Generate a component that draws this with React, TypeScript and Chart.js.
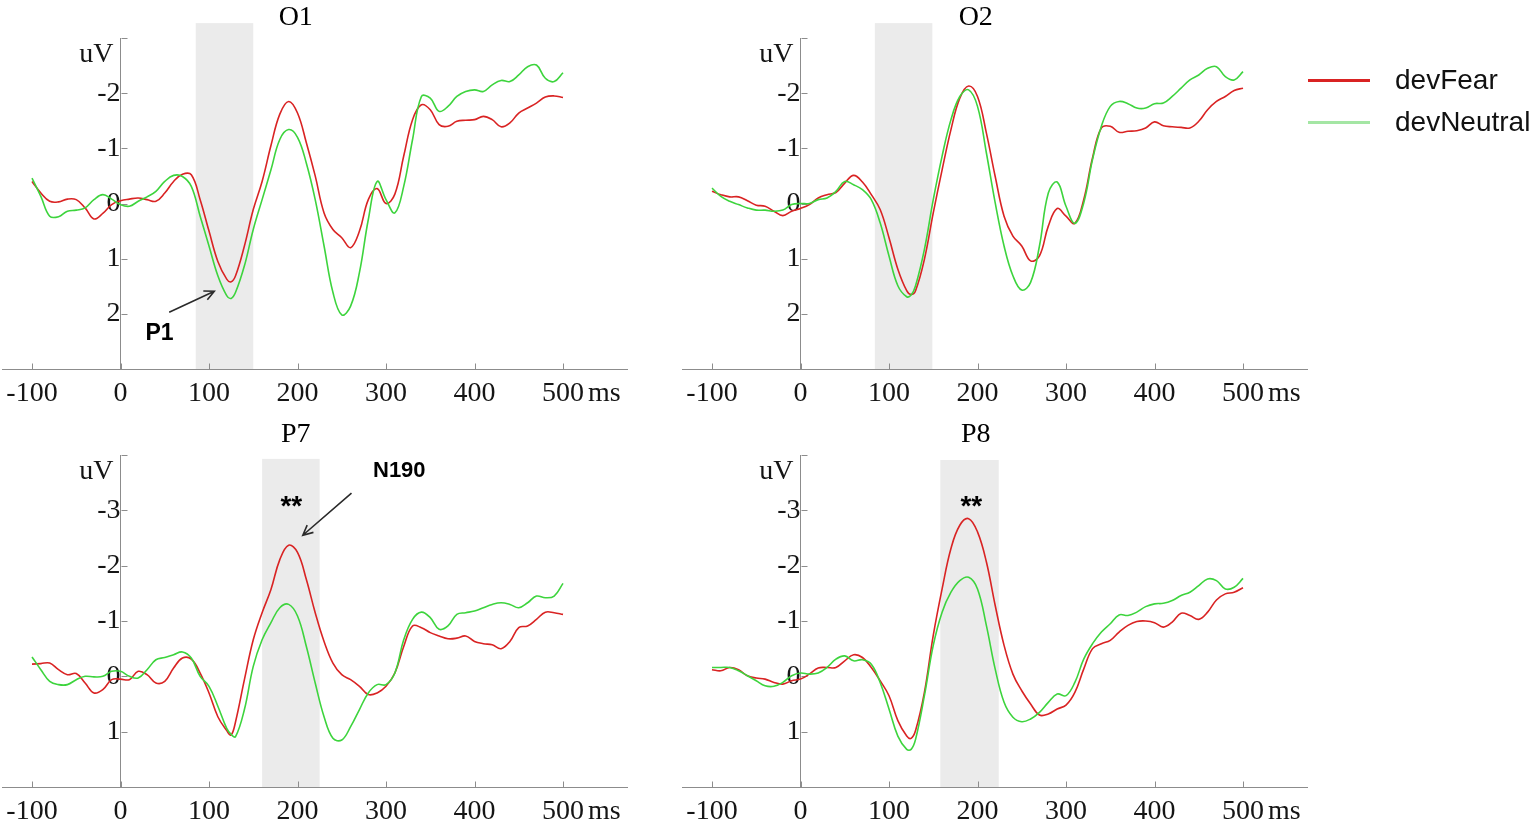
import React, { useEffect, useRef } from "react";
import { Chart, registerables } from "chart.js";

Chart.register(...registerables);

// ---------- data ----------
const times = [
  -100, -90, -80, -70, -60, -50, -40, -30, -20, -10, 0, 10, 20, 30, 40, 50, 60, 70, 80, 90, 100, 110, 120, 125, 130,
  140, 150, 160, 170, 180, 190, 200, 210, 220, 230, 240, 250, 260, 270, 280, 290, 300, 310, 320, 330, 340, 350, 360,
  370, 380, 390, 400, 410, 420, 430, 440, 450, 460, 470, 480, 490, 500,
];

const o1Fear = [
  -0.4, -0.19, -0.04, -0.03, -0.08, -0.07, 0.08, 0.28, 0.18, 0.02, -0.05, -0.08, -0.1, -0.07, -0.04, -0.19, -0.4, -0.53,
  -0.52, -0.07, 0.5, 1.05, 1.37, 1.42, 1.31, 0.77, 0.11, -0.4, -1.05, -1.62, -1.85, -1.64, -1.1, -0.5, 0.17, 0.47, 0.62,
  0.8, 0.5, -0.07, -0.27, 0.0, -0.17, -0.86, -1.52, -1.79, -1.7, -1.43, -1.4, -1.49, -1.51, -1.52, -1.58, -1.52, -1.39,
  -1.46, -1.64, -1.73, -1.82, -1.93, -1.95, -1.92,
];
const o1Neutral = [
  -0.46, -0.13, 0.23, 0.24, 0.14, 0.12, 0.08, -0.07, -0.16, -0.08, 0.02, 0.05, -0.04, -0.12, -0.22, -0.4, -0.51, -0.49,
  -0.31, 0.23, 0.77, 1.31, 1.67, 1.72, 1.61, 1.13, 0.47, -0.07, -0.61, -1.16, -1.34, -1.2, -0.73, -0.07, 0.77, 1.61,
  2.02, 1.86, 1.25, 0.29, -0.4, -0.07, 0.17, -0.31, -1.16, -1.94, -1.91, -1.67, -1.76, -1.94, -2.03, -2.06, -2.03,
  -2.15, -2.23, -2.21, -2.33, -2.48, -2.51, -2.27, -2.21, -2.37,
];
const o2Fear = [
  -0.22, -0.16, -0.12, -0.12, -0.05, 0.03, 0.05, 0.14, 0.22, 0.14, 0.09, 0.02, -0.1, -0.16, -0.2, -0.37, -0.51, -0.39,
  -0.16, 0.11, 0.62, 1.19, 1.58, 1.65, 1.58, 1.01, 0.17, -0.61, -1.34, -1.91, -2.13, -1.94, -1.28, -0.49, 0.23, 0.59,
  0.77, 1.04, 0.95, 0.41, 0.09, 0.23, 0.36, -0.07, -0.83, -1.37, -1.4, -1.29, -1.31, -1.32, -1.37, -1.48, -1.41, -1.39,
  -1.38, -1.37, -1.49, -1.7, -1.85, -1.94, -2.05, -2.09,
];
const o2Neutral = [
  -0.28, -0.13, -0.04, 0.02, 0.08, 0.12, 0.12, 0.14, 0.12, 0.02, 0.0, 0.0, -0.07, -0.1, -0.22, -0.4, -0.34, -0.25,
  -0.07, 0.35, 0.95, 1.49, 1.69, 1.66, 1.49, 0.83, -0.07, -0.86, -1.52, -1.94, -2.06, -1.76, -0.92, -0.01, 0.77, 1.31,
  1.57, 1.43, 0.77, -0.19, -0.39, 0.05, 0.36, -0.01, -0.8, -1.4, -1.76, -1.85, -1.81, -1.73, -1.73, -1.81, -1.82, -1.94,
  -2.09, -2.24, -2.33, -2.45, -2.48, -2.3, -2.24, -2.39,
];
const p7Fear = [
  -0.22, -0.23, -0.24, -0.12, -0.03, -0.05, 0.12, 0.3, 0.24, 0.06, 0.05, 0.06, -0.09, -0.03, 0.12, 0.09, -0.15, -0.33,
  -0.31, -0.06, 0.3, 0.73, 0.98, 1.06, 0.82, 0.06, -0.66, -1.15, -1.57, -2.11, -2.37, -2.24, -1.75, -1.15, -0.63, -0.24,
  -0.03, 0.06, 0.18, 0.33, 0.3, 0.18, -0.06, -0.54, -0.91, -0.88, -0.79, -0.73, -0.68, -0.69, -0.73, -0.63, -0.59,
  -0.57, -0.5, -0.63, -0.88, -0.91, -1.03, -1.16, -1.15, -1.12,
];
const p7Neutral = [
  -0.35, -0.12, 0.09, 0.15, 0.15, 0.06, 0.0, 0.01, 0.0, -0.09, -0.09, 0.0, 0.03, -0.12, -0.3, -0.34, -0.39, -0.44, -0.33,
  0.0, 0.18, 0.54, 0.94, 1.05, 1.09, 0.6, -0.18, -0.66, -0.97, -1.24, -1.3, -1.09, -0.54, 0.12, 0.73, 1.12, 1.15, 0.91,
  0.6, 0.3, 0.15, 0.15, -0.06, -0.66, -1.03, -1.16, -1.06, -0.85, -0.91, -1.12, -1.15, -1.18, -1.24, -1.3, -1.33, -1.3,
  -1.24, -1.33, -1.45, -1.42, -1.45, -1.68,
];
const p8Fear = [
  -0.12, -0.1, -0.16, -0.12, -0.01, 0.03, 0.05, 0.11, 0.14, 0.08, 0.05, -0.04, -0.15, -0.16, -0.16, -0.28, -0.39, -0.34,
  -0.16, 0.08, 0.35, 0.8, 1.08, 1.12, 0.98, 0.29, -0.74, -1.58, -2.31, -2.73, -2.85, -2.61, -2.07, -1.28, -0.56, -0.04,
  0.26, 0.5, 0.7, 0.68, 0.59, 0.52, 0.29, -0.13, -0.5, -0.59, -0.65, -0.8, -0.92, -0.99, -1.0, -0.97, -0.89, -0.98,
  -1.14, -1.1, -1.03, -1.16, -1.38, -1.49, -1.52, -1.6,
];
const p8Neutral = [
  -0.16, -0.16, -0.16, -0.1, -0.01, 0.08, 0.17, 0.18, 0.11, -0.01, -0.06, -0.04, -0.06, -0.16, -0.31, -0.37, -0.28,
  -0.3, -0.22, 0.11, 0.59, 1.08, 1.32, 1.32, 1.14, 0.35, -0.56, -1.16, -1.52, -1.73, -1.79, -1.58, -0.92, -0.13, 0.47,
  0.74, 0.82, 0.77, 0.65, 0.47, 0.32, 0.35, 0.11, -0.31, -0.59, -0.8, -0.95, -1.11, -1.1, -1.16, -1.26, -1.31, -1.32,
  -1.37, -1.46, -1.52, -1.64, -1.76, -1.73, -1.58, -1.61, -1.77,
];

const seriesNames = ["devFear", "devNeutral"];
const panelTitles = ["O1", "O2", "P7", "P8"];
const fearSeries = [o1Fear, o2Fear, p7Fear, p8Fear];
const neutralSeries = [o1Neutral, o2Neutral, p7Neutral, p8Neutral];
const yMinValues = [-3, -3, -4, -4];
const yMaxValues = [3, 3, 2, 2];
const yTickLabels = [
  [-2, -1, 0, 1, 2],
  [-2, -1, 0, 1, 2],
  [-3, -2, -1, 0, 1],
  [-3, -2, -1, 0, 1],
];
const xTickLabels = [-100, 0, 100, 200, 300, 400, 500];
const xMin = -133.9;
const xMax = 572.3;
const bandFrom = [85, 84, 160, 158];
const bandTo = [150, 149, 225, 224];
const bandTop = [-3.27, -3.27, -3.93, -3.91];
const titleAt = 198;
const annotationTexts = [
  { panel: 0, text: "P1", t: 44, v: 2.36, size: 23, base: "middle" },
  { panel: 2, text: "**", t: 193, v: -2.92, size: 28, base: "alphabetic" },
  { panel: 2, text: "N190", t: 315, v: -3.71, size: 22, base: "middle" },
  { panel: 3, text: "**", t: 193, v: -2.92, size: 28, base: "alphabetic" },
];
const annotationArrows = [
  { panel: 0, from: [55, 1.97], to: [106, 1.59] },
  { panel: 2, from: [261, -3.31], to: [206, -2.55] },
];

// ---------- style / layout ----------
const FEAR_COLOR = "#d92323";
const NEUTRAL_COLOR = "#3dd43d";
const NEUTRAL_LEGEND = "#a4e6a4";
const AXIS_COLOR = "#8c8c8c";
const BAND_COLOR = "#ebebeb";
const TEXT_COLOR = "#151515";
const SERIF = "'Liberation Serif', 'Times New Roman', serif";
const SANS = "'Liberation Sans', Arial, sans-serif";
const SERIF_SIZE = 28;
const X_SCALE_HEIGHT = 40;
const TICK_PAD = 8;

const panelBoxes = [
  { left: 0, top: 0, width: 680, height: 420, areaLeft: 2, areaRight: 627, areaTop: 38, areaBottom: 369 },
  { left: 680, top: 0, width: 680, height: 420, areaLeft: 2, areaRight: 627, areaTop: 38, areaBottom: 369 },
  { left: 0, top: 420, width: 680, height: 411, areaLeft: 2, areaRight: 627, areaTop: 35, areaBottom: 367 },
  { left: 680, top: 420, width: 680, height: 411, areaLeft: 2, areaRight: 627, areaTop: 35, areaBottom: 367 },
];

function zeroPadding(s: any) {
  s.paddingLeft = 0;
  s.paddingRight = 0;
  s.paddingTop = 0;
  s.paddingBottom = 0;
}

function drawArrow(ctx: CanvasRenderingContext2D, x0: number, y0: number, x1: number, y1: number) {
  const ang = Math.atan2(y1 - y0, x1 - x0);
  const len = 11;
  const spread = 0.45;
  ctx.beginPath();
  ctx.moveTo(x0, y0);
  ctx.lineTo(x1, y1);
  ctx.moveTo(x1 - len * Math.cos(ang - spread), y1 - len * Math.sin(ang - spread));
  ctx.lineTo(x1, y1);
  ctx.lineTo(x1 - len * Math.cos(ang + spread), y1 - len * Math.sin(ang + spread));
  ctx.stroke();
}

function decorPlugin(index: number) {
  return {
    id: "erpDecor",
    beforeDraw(chart: any) {
      const { ctx, scales } = chart;
      const x = scales.x;
      const y = scales.y;
      const x0 = x.getPixelForValue(bandFrom[index]);
      const x1 = x.getPixelForValue(bandTo[index]);
      const y0 = y.getPixelForValue(bandTop[index]);
      const y1 = y.getPixelForValue(yMaxValues[index]);
      ctx.save();
      ctx.fillStyle = BAND_COLOR;
      ctx.fillRect(x0, y0, x1 - x0, y1 - y0);
      ctx.restore();
    },
    beforeDatasetsDraw(chart: any) {
      const { ctx, scales, chartArea } = chart;
      const x = scales.x;
      const y = scales.y;
      const axisX = Math.round(x.getPixelForValue(0)) + 0.5;
      const axisY = Math.round(chartArea.bottom) + 0.5;
      ctx.save();
      ctx.strokeStyle = AXIS_COLOR;
      ctx.lineWidth = 1;
      ctx.beginPath();
      for (const v of xTickLabels) {
        const px = Math.round(x.getPixelForValue(v)) + 0.5;
        ctx.moveTo(px, axisY);
        ctx.lineTo(px, axisY - 6);
      }
      for (let v = yMinValues[index]; v < yMaxValues[index]; v++) {
        const py = Math.round(y.getPixelForValue(v)) + 0.5;
        ctx.moveTo(axisX, py);
        ctx.lineTo(axisX + 6, py);
      }
      ctx.stroke();
      ctx.fillStyle = TEXT_COLOR;
      ctx.font = `${SERIF_SIZE}px ${SERIF}`;
      ctx.textBaseline = "middle";
      ctx.textAlign = "right";
      ctx.fillText("uV", axisX - 8, chartArea.top + 17);
      ctx.textAlign = "left";
      const labelY = chartArea.bottom + TICK_PAD + SERIF_SIZE * 0.6;
      ctx.fillText("ms", x.getPixelForValue(500) + 25, labelY);
      ctx.textAlign = "center";
      ctx.fillStyle = "#000";
      ctx.fillText(panelTitles[index], x.getPixelForValue(titleAt), chartArea.top - 20);
      ctx.restore();
    },
    afterDatasetsDraw(chart: any) {
      const { ctx, scales } = chart;
      const x = scales.x;
      const y = scales.y;
      ctx.save();
      for (const a of annotationTexts) {
        if (a.panel !== index) continue;
        ctx.fillStyle = "#000";
        ctx.font = `bold ${a.size}px ${SANS}`;
        ctx.textAlign = "center";
        ctx.textBaseline = a.base as CanvasTextBaseline;
        ctx.fillText(a.text, x.getPixelForValue(a.t), y.getPixelForValue(a.v));
      }
      ctx.strokeStyle = "#2a2a2a";
      ctx.lineWidth = 1.6;
      for (const a of annotationArrows) {
        if (a.panel !== index) continue;
        drawArrow(
          ctx,
          x.getPixelForValue(a.from[0]),
          y.getPixelForValue(a.from[1]),
          x.getPixelForValue(a.to[0]),
          y.getPixelForValue(a.to[1])
        );
      }
      ctx.restore();
    },
  };
}

function Panel({ index }: { index: number }) {
  const ref = useRef<HTMLCanvasElement>(null);
  const box = panelBoxes[index];
  useEffect(() => {
    const canvas = ref.current;
    if (!canvas) return;
    const yMin = yMinValues[index];
    const yMax = yMaxValues[index];
    const yTicks: number[] = [];
    for (let v = yMin; v <= yMax; v++) yTicks.push(v);
    const chart = new Chart(canvas, {
      type: "line",
      data: {
        datasets: [
          {
            label: seriesNames[1],
            data: times.map((t, i) => ({ x: t, y: neutralSeries[index][i] })),
            borderColor: NEUTRAL_COLOR,
            order: 0,
          },
          {
            label: seriesNames[0],
            data: times.map((t, i) => ({ x: t, y: fearSeries[index][i] })),
            borderColor: FEAR_COLOR,
            order: 1,
          },
        ],
      },
      options: {
        responsive: false,
        animation: false,
        events: [],
        layout: {
          padding: {
            left: box.areaLeft,
            right: box.width - box.areaRight,
            top: box.areaTop,
            bottom: box.height - box.areaBottom - X_SCALE_HEIGHT,
          },
        },
        plugins: { legend: { display: false }, tooltip: { enabled: false }, title: { display: false } },
        elements: {
          point: { radius: 0 },
          line: { tension: 0.4, borderWidth: 1.6, fill: false },
        },
        scales: {
          x: {
            type: "linear",
            min: xMin,
            max: xMax,
            afterBuildTicks: (s: any) => {
              s.ticks = xTickLabels.map((v) => ({ value: v }));
            },
            afterFit: (s: any) => {
              s.height = X_SCALE_HEIGHT;
              zeroPadding(s);
            },
            grid: { drawOnChartArea: false, drawTicks: false },
            border: { display: true, color: AXIS_COLOR, width: 1 },
            ticks: {
              autoSkip: false,
              maxRotation: 0,
              padding: TICK_PAD,
              color: TEXT_COLOR,
              font: { family: SERIF, size: SERIF_SIZE },
              callback: (v: any) => String(v),
            },
          },
          y: {
            type: "linear",
            reverse: true,
            min: yMin,
            max: yMax,
            position: { x: 0 } as any,
            afterBuildTicks: (s: any) => {
              s.ticks = yTicks.map((v) => ({ value: v }));
            },
            afterFit: (s: any) => zeroPadding(s),
            grid: { drawOnChartArea: false, drawTicks: false },
            border: { display: true, color: AXIS_COLOR, width: 1 },
            ticks: {
              autoSkip: false,
              padding: 9,
              color: TEXT_COLOR,
              font: { family: SERIF, size: SERIF_SIZE },
              callback: (v: any) => (yTickLabels[index].includes(Number(v)) ? String(v) : ""),
            },
          },
        },
      } as any,
      plugins: [decorPlugin(index)],
    });
    return () => chart.destroy();
  }, [index]);
  return (
    <canvas
      ref={ref}
      width={box.width}
      height={box.height}
      style={{ position: "absolute", left: box.left, top: box.top, width: box.width, height: box.height }}
    />
  );
}

export default function App() {
  const legendColors = [FEAR_COLOR, NEUTRAL_LEGEND];
  const legendTops = [80, 122];
  return (
    <div
      style={{
        position: "absolute",
        left: 0,
        top: 0,
        width: 1535,
        height: 831,
        overflow: "hidden",
        background: "#fff",
      }}
    >
      {panelTitles.map((_, i) => (
        <Panel key={i} index={i} />
      ))}
      {seriesNames.map((name, i) => (
        <React.Fragment key={name}>
          <div
            style={{
              position: "absolute",
              left: 1308,
              top: legendTops[i] - 1.5,
              width: 62,
              height: 3,
              background: legendColors[i],
            }}
          />
          <div
            style={{
              position: "absolute",
              left: 1395,
              top: legendTops[i] - 16,
              font: `28px ${SANS}`,
              lineHeight: "32px",
              color: "#111",
              whiteSpace: "nowrap",
            }}
          >
            {name}
          </div>
        </React.Fragment>
      ))}
    </div>
  );
}
